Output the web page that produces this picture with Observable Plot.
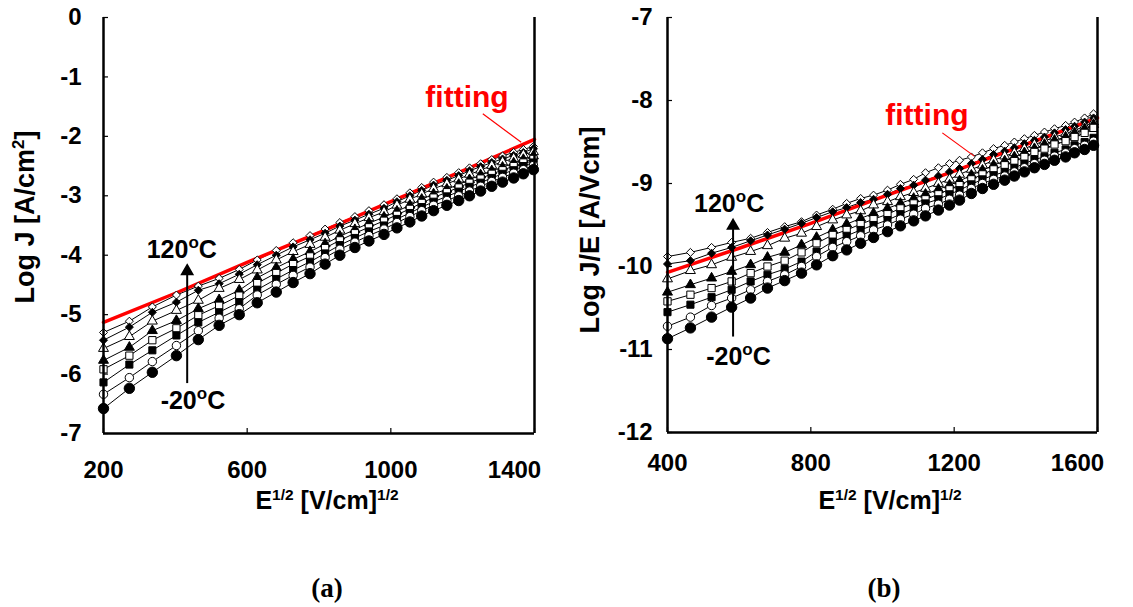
<!DOCTYPE html>
<html><head><meta charset="utf-8">
<script src="https://cdn.jsdelivr.net/npm/d3@7"></script>
<script src="https://cdn.jsdelivr.net/npm/@observablehq/plot@0.6"></script>
<style>
body{margin:0;background:#fff;}
#wrap{position:relative;width:1133px;height:607px;overflow:hidden;background:#fff;font-family:"Liberation Sans",Arial,sans-serif;}
.panel{position:absolute;top:0;}
.t{position:absolute;font-weight:bold;font-size:25px;color:#000;white-space:nowrap;transform:translate(-50%,-50%);line-height:1;}
.t sup{font-size:0.62em;vertical-align:0.55em;line-height:0;}
.rot{font-size:27px;transform:translate(-50%,-50%) rotate(-90deg);}
.cap{font-family:"Liberation Serif","Times New Roman",serif;font-size:27px;}
</style></head>
<body><div id="wrap"></div>
<script>
// ---- series (temperature, top to bottom) ----
const temps = ["120 °C","100 °C","80 °C","60 °C","40 °C","20 °C","0 °C","-20 °C"];

// ---- panel (a): Log J vs E^1/2 ----
const xA = [200,272,336,403,464,522,578,628,681,728,775,817,858,900,939,981,1017,1053,1086,1119,1156,1189,1219,1250,1281,1311,1342,1369,1397];
const a120 = [-5.30,-5.11,-4.87,-4.67,-4.52,-4.39,-4.24,-4.08,-3.92,-3.79,-3.67,-3.56,-3.45,-3.35,-3.25,-3.15,-3.05,-2.95,-2.86,-2.77,-2.69,-2.61,-2.53,-2.46,-2.39,-2.33,-2.27,-2.22,-2.17];
const a100 = [-5.43,-5.21,-4.96,-4.79,-4.59,-4.48,-4.32,-4.16,-4.00,-3.86,-3.74,-3.63,-3.51,-3.41,-3.31,-3.21,-3.10,-3.00,-2.91,-2.82,-2.74,-2.66,-2.58,-2.51,-2.44,-2.38,-2.32,-2.27,-2.21];
const a80 = [-5.57,-5.37,-5.11,-4.93,-4.76,-4.56,-4.41,-4.25,-4.08,-3.94,-3.82,-3.70,-3.58,-3.47,-3.37,-3.27,-3.16,-3.06,-2.97,-2.88,-2.80,-2.72,-2.64,-2.57,-2.49,-2.43,-2.37,-2.31,-2.26];
const a60 = [-5.77,-5.55,-5.27,-5.10,-4.90,-4.75,-4.59,-4.38,-4.21,-4.07,-3.94,-3.81,-3.68,-3.57,-3.46,-3.36,-3.26,-3.16,-3.06,-2.97,-2.89,-2.81,-2.73,-2.65,-2.58,-2.52,-2.45,-2.39,-2.33];
const a40 = [-5.92,-5.69,-5.43,-5.23,-5.01,-4.85,-4.68,-4.47,-4.30,-4.15,-4.02,-3.88,-3.75,-3.63,-3.53,-3.42,-3.32,-3.22,-3.12,-3.03,-2.94,-2.86,-2.78,-2.71,-2.63,-2.57,-2.50,-2.44,-2.38];
const a20 = [-6.14,-5.84,-5.60,-5.35,-5.13,-4.96,-4.79,-4.58,-4.40,-4.25,-4.11,-3.97,-3.83,-3.71,-3.60,-3.50,-3.39,-3.29,-3.19,-3.10,-3.01,-2.93,-2.85,-2.78,-2.70,-2.63,-2.57,-2.50,-2.44];
const a0 = [-6.34,-6.06,-5.79,-5.52,-5.27,-5.06,-4.90,-4.67,-4.49,-4.34,-4.20,-4.04,-3.90,-3.78,-3.67,-3.56,-3.45,-3.35,-3.25,-3.16,-3.08,-3.00,-2.92,-2.84,-2.76,-2.69,-2.62,-2.56,-2.49];
const am20 = [-6.58,-6.24,-5.97,-5.69,-5.42,-5.18,-5.00,-4.80,-4.62,-4.46,-4.31,-4.15,-4.00,-3.87,-3.76,-3.65,-3.54,-3.44,-3.34,-3.25,-3.16,-3.08,-3.00,-2.92,-2.84,-2.77,-2.70,-2.63,-2.56];
const fitAx = [200,400,600,800,1000,1200,1400];
const fitAy = [-5.13,-4.64,-4.12,-3.62,-3.10,-2.58,-2.05];
const xTicksA = [200,600,1000,1400];
const yTicksA = [0,-1,-2,-3,-4,-5,-6,-7];

// ---- panel (b): Log J/E vs E^1/2 ----
const xB = [400,464,523,579,632,679,727,774,816,861,900,939,975,1014,1050,1087,1120,1156,1187,1215,1248,1279,1310,1341,1368,1396,1424,1452,1480,1511,1536,1564,1589];
const b120 = [-9.88,-9.83,-9.77,-9.71,-9.66,-9.59,-9.52,-9.46,-9.38,-9.31,-9.24,-9.18,-9.14,-9.08,-9.01,-8.95,-8.87,-8.81,-8.76,-8.72,-8.68,-8.63,-8.58,-8.54,-8.50,-8.46,-8.42,-8.38,-8.34,-8.30,-8.26,-8.21,-8.16];
const b100 = [-9.97,-9.93,-9.84,-9.77,-9.69,-9.62,-9.55,-9.48,-9.41,-9.34,-9.29,-9.23,-9.19,-9.13,-9.06,-9.02,-8.96,-8.91,-8.86,-8.82,-8.76,-8.71,-8.65,-8.61,-8.57,-8.52,-8.48,-8.44,-8.39,-8.35,-8.31,-8.26,-8.21];
const b80 = [-10.15,-10.05,-9.98,-9.89,-9.82,-9.75,-9.66,-9.60,-9.52,-9.44,-9.38,-9.33,-9.26,-9.22,-9.16,-9.11,-9.06,-9.00,-8.95,-8.89,-8.83,-8.78,-8.72,-8.67,-8.63,-8.58,-8.53,-8.49,-8.44,-8.40,-8.36,-8.31,-8.26];
const b60 = [-10.31,-10.22,-10.14,-10.06,-9.98,-9.89,-9.83,-9.74,-9.65,-9.56,-9.49,-9.42,-9.36,-9.30,-9.24,-9.18,-9.13,-9.07,-9.02,-8.97,-8.90,-8.84,-8.78,-8.73,-8.68,-8.63,-8.58,-8.53,-8.48,-8.44,-8.39,-8.34,-8.29];
const b40 = [-10.42,-10.34,-10.26,-10.18,-10.08,-10.00,-9.93,-9.83,-9.72,-9.62,-9.56,-9.49,-9.43,-9.37,-9.30,-9.24,-9.19,-9.13,-9.07,-9.02,-8.95,-8.89,-8.83,-8.78,-8.73,-8.68,-8.62,-8.58,-8.53,-8.49,-8.44,-8.39,-8.33];
const b20 = [-10.55,-10.46,-10.37,-10.28,-10.18,-10.10,-10.03,-9.94,-9.82,-9.70,-9.63,-9.56,-9.50,-9.44,-9.37,-9.30,-9.24,-9.19,-9.13,-9.08,-9.01,-8.95,-8.90,-8.86,-8.81,-8.76,-8.71,-8.68,-8.63,-8.59,-8.54,-8.50,-8.45];
const b0 = [-10.72,-10.61,-10.47,-10.38,-10.28,-10.18,-10.10,-10.00,-9.88,-9.77,-9.70,-9.63,-9.56,-9.50,-9.43,-9.37,-9.30,-9.25,-9.19,-9.14,-9.06,-9.00,-8.95,-8.91,-8.86,-8.81,-8.76,-8.72,-8.67,-8.63,-8.58,-8.54,-8.49];
const bm20 = [-10.87,-10.74,-10.61,-10.49,-10.38,-10.26,-10.17,-10.08,-9.98,-9.87,-9.80,-9.72,-9.65,-9.58,-9.51,-9.45,-9.39,-9.32,-9.26,-9.20,-9.12,-9.06,-9.01,-8.96,-8.91,-8.86,-8.81,-8.77,-8.72,-8.68,-8.63,-8.59,-8.54];
const fitBx = [400,600,800,1000,1200,1400,1600];
const fitBy = [-10.07,-9.78,-9.48,-9.16,-8.85,-8.53,-8.21];
const xTicksB = [400,800,1200,1600];
const yTicksB = [-7,-8,-9,-10,-11,-12];

// ---- marker styles ----
const symbols = ["diamond2","diamond2","triangle","triangle","square","square","circle","circle"];
const fills = ["white","black","white","black","white","black","white","black"];
const radii = [3.6,3.6,3.7,3.7,4.1,4.0,4.2,5.2];

const FONT = '"Liberation Sans", Arial, sans-serif';

function panel(cfg) {
  const series = cfg.series;
  const rows = [];
  series.forEach((arr, k) => arr.forEach((v, i) => rows.push({x: cfg.xs[i], y: v, k})));
  const fit = cfg.fitX.map((x, i) => ({x, y: cfg.fitY[i]}));
  const plotW = cfg.width - cfg.ml - cfg.mr;
  const plotH = cfg.height - cfg.mt - cfg.mb;
  const an = cfg.ann;
  const axisText = {tickSize: 0, fontSize: 24, fontWeight: "bold", fill: "black", label: null, tickFormat: d => String(d)};
  const marks = [
    Plot.line(rows, {x: "x", y: "y", z: "k", stroke: "black", strokeWidth: 1}),
    Plot.line(fit, {x: "x", y: "y", stroke: "#ff0000", strokeWidth: 3.5}),
    ...series.map((s, k) => Plot.dot(rows.filter(d => d.k === k), {
      x: "x", y: "y", symbol: symbols[k], fill: fills[k], stroke: "black", strokeWidth: 1, r: radii[k]
    })),
    Plot.ruleX([cfg.xDomain[0], cfg.xDomain[1]], {stroke: "black", strokeWidth: 2.5}),
    Plot.ruleY([cfg.yDomain[0]], {stroke: "black", strokeWidth: 2.5}),
    Plot.tickX(cfg.xTicks, {x: d => d, stroke: "black", strokeWidth: 1.2, insetTop: plotH - 5}),
    Plot.tickY(cfg.yTicks, {y: d => d, stroke: "black", strokeWidth: 1.2, insetRight: plotW - 5}),
    Plot.axisX(cfg.xTicks.slice(0, -1), {...axisText, tickPadding: cfg.xPad}),
    Plot.axisX(cfg.xTicks.slice(-1), {...axisText, tickPadding: cfg.xPad, dx: -20}),
    Plot.axisY(cfg.yTicks, {...axisText, tickPadding: cfg.yPad}),
    // annotations: temperature arrow and labels
    Plot.ruleX([an.arrow], {x: "x", y1: "y1", y2: "y2", stroke: "black", strokeWidth: 2}),
    Plot.dot([an.arrow], {x: "x", y: "y2", symbol: "triangle", fill: "black", stroke: "black", r: 4.2}),
    Plot.text(an.labels, {x: "x", y: "y", text: "text", fontSize: 25, fontWeight: "bold", fill: "black"}),
    Plot.link([an.leader], {x1: "x1", y1: "y1", x2: "x2", y2: "y2", stroke: "#ff0000", strokeWidth: 1.2}),
    Plot.text([an.fitting], {x: "x", y: "y", text: "text", fontSize: 30, fontWeight: "bold", fill: "#ff0000"})
  ];
  const svg = Plot.plot({
    width: cfg.width, height: cfg.height,
    marginLeft: cfg.ml, marginRight: cfg.mr, marginTop: cfg.mt, marginBottom: cfg.mb,
    x: {domain: cfg.xDomain},
    y: {domain: cfg.yDomain},
    style: {fontFamily: FONT, background: "transparent", overflow: "visible", color: "black"},
    marks
  });
  svg.querySelectorAll("text").forEach(t => {
    const m = /^(-?\d+)oC$/.exec(t.textContent);
    if (m) t.innerHTML = `${m[1]}<tspan dy="-10" font-size="17">o</tspan><tspan dy="10">C</tspan>`;
  });
  return svg;
}

const wrap = document.getElementById("wrap");

const svgA = panel({
  width: 560, height: 520, ml: 103, mr: 26, mt: 17, mb: 87,
  xDomain: [200, 1400], yDomain: [-7, 0], xTicks: xTicksA, yTicks: yTicksA, xPad: 27, yPad: 22,
  xs: xA, series: [a120, a100, a80, a60, a40, a20, a0, am20],
  fitX: fitAx, fitY: fitAy,
  ann: {
    arrow: {x: 433, y1: -6.16, y2: -4.27},
    labels: [{x: 418, y: -3.92, text: "120oC"}, {x: 449, y: -6.46, text: "-20oC"}],
    leader: {x1: 1256, y1: -1.62, x2: 1363, y2: -2.10},
    fitting: {x: 1212, y: -1.35, text: "fitting"}
  }
});
svgA.classList.add("panel"); svgA.style.left = "0px";
wrap.appendChild(svgA);

const svgB = panel({
  width: 573, height: 520, ml: 107, mr: 36, mt: 17, mb: 88,
  xDomain: [400, 1600], yDomain: [-12, -7], xTicks: xTicksB, yTicks: yTicksB, xPad: 21, yPad: 15,
  xs: xB, series: [b120, b100, b80, b60, b40, b20, b0, bm20],
  fitX: fitBx, fitY: fitBy,
  ann: {
    arrow: {x: 583, y1: -10.85, y2: -9.51},
    labels: [{x: 572, y: -9.25, text: "120oC"}, {x: 598, y: -11.09, text: "-20oC"}],
    leader: {x1: 1167, y1: -8.39, x2: 1256, y2: -8.67},
    fitting: {x: 1124, y: -8.18, text: "fitting"}
  }
});
svgB.classList.add("panel"); svgB.style.left = "560px";
wrap.appendChild(svgB);

// ---- titles and captions (HTML text) ----
function label(html, left, top, cls) {
  const d = document.createElement("div");
  d.className = "t " + (cls || "");
  d.style.left = left + "px"; d.style.top = top + "px";
  d.innerHTML = html;
  wrap.appendChild(d);
}
label("Log J [A/cm<sup>2</sup>]", 25, 217, "rot");
label("Log J/E [A/Vcm]", 590, 230, "rot");
label("E<sup>1/2</sup> [V/cm]<sup>1/2</sup>", 327, 500);
label("E<sup>1/2</sup> [V/cm]<sup>1/2</sup>", 890, 500);
label("(a)", 327, 588, "cap");
label("(b)", 884, 588, "cap");
</script>
</body></html>
